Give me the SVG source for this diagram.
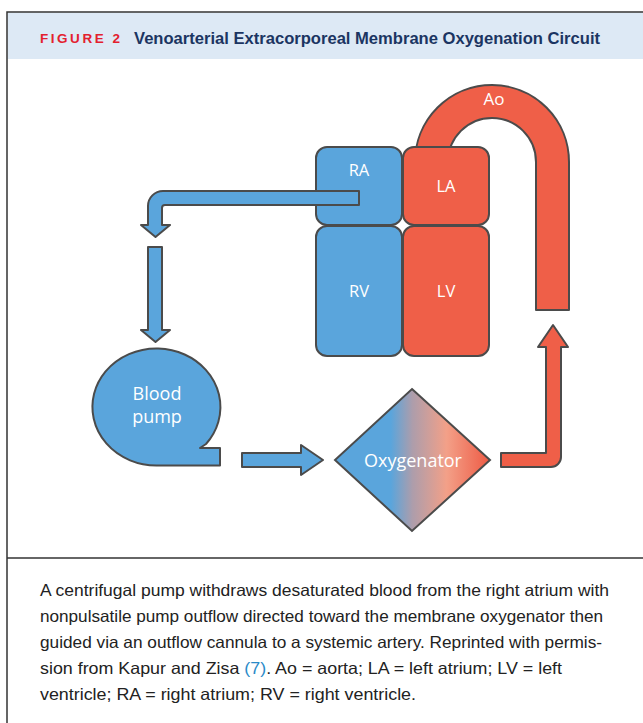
<svg xmlns="http://www.w3.org/2000/svg" width="643" height="723" viewBox="0 0 643 723">
  <style>
    .frame { stroke: #333333; stroke-width: 1.5; fill: none; }
    .blue { fill: #5aa5dc; stroke: #4b4b4b; stroke-width: 2; stroke-linejoin: round; }
    .red { fill: #ef5f48; stroke: #4b4b4b; stroke-width: 2; stroke-linejoin: round; }
    .lbl { font-family: "Open Sans", "Noto Sans", "Liberation Sans", sans-serif; fill: #ffffff; text-anchor: middle; }
    .cap { font-family: "Liberation Sans", Arial, sans-serif; font-size: 16.5px; fill: #222222; }
  </style>
  <defs>
    <linearGradient id="oxyGrad" gradientUnits="userSpaceOnUse" x1="335" y1="0" x2="490" y2="0">
      <stop offset="0" stop-color="#5aa5dc"/>
      <stop offset="0.36" stop-color="#5aa5dc"/>
      <stop offset="0.5" stop-color="#ad9dab"/>
      <stop offset="0.72" stop-color="#f3a088"/>
      <stop offset="1" stop-color="#ee5a44"/>
    </linearGradient>
  </defs>

  <!-- frame and header -->
  <rect x="7.5" y="12.5" width="636" height="46.5" fill="#dde9f5"/>
  <path class="frame" d="M7,723 V12 H643"/>
  <line class="frame" x1="7" y1="558" x2="643" y2="558"/>
  <text x="40" y="43" font-family="Liberation Sans, Arial, sans-serif" font-size="13.5" font-weight="bold" fill="#e3202e" textLength="80" lengthAdjust="spacing">FIGURE 2</text>
  <text x="134" y="43.5" font-family="Liberation Sans, Arial, sans-serif" font-size="16" font-weight="bold" fill="#1b3562" textLength="466" lengthAdjust="spacingAndGlyphs">Venoarterial Extracorporeal Membrane Oxygenation Circuit</text>

  <!-- Aorta -->
  <g id="Ao">
    <path class="red" d="M415,200 V162 A77,77 0 0 1 569,162 V310 H536 V162 A44,44 0 0 0 448,162 V200 Z"/>
    <text class="lbl" x="494" y="105" font-size="17">Ao</text>
  </g>

  <!-- Heart chambers -->
  <g id="RA">
    <rect class="blue" x="316" y="147" width="86" height="78" rx="11"/>
    <text class="lbl" x="359" y="176" font-size="16.5">RA</text>
  </g>
  <g id="RV">
    <rect class="blue" x="316" y="226" width="86" height="130" rx="11"/>
    <text class="lbl" x="359" y="297" font-size="16.5">RV</text>
  </g>
  <g id="LA">
    <rect class="red" x="403" y="147" width="86" height="78" rx="11"/>
    <text class="lbl" x="446" y="192" font-size="16.5">LA</text>
  </g>
  <g id="LV">
    <rect class="red" x="403" y="226" width="86" height="130" rx="11"/>
    <text class="lbl" x="446" y="297" font-size="16.5">LV</text>
  </g>

  <!-- Blood pump -->
  <g id="BloodPump">
    <path class="blue" d="M200,448 L206,444 A64,58.5 0 1 0 156.5,465.5 H220 V448 Z"/>
    <text class="lbl" x="157" y="400" font-size="18">Blood</text>
    <text class="lbl" x="157" y="423" font-size="18">pump</text>
  </g>

  <!-- Oxygenator -->
  <g id="Oxygenator">
    <path d="M412,389 L490,460 L412,531 L335,460 Z" fill="url(#oxyGrad)" stroke="#4b4b4b" stroke-width="2" stroke-linejoin="miter"/>
    <text class="lbl" x="413" y="467" font-size="18">Oxygenator</text>
  </g>

  <!-- Connectors -->
  <g id="connectors">
    <path class="blue" stroke-width="1.8" d="M359,191 H163 A15,15 0 0 0 148,206 V225 H141 L155.5,237 L170,225 H162 V208 Q162,205 165,205 H359 Z"/>
    <path class="blue" stroke-width="1.8" d="M148,247 H162 V330 H170 L155.5,342 L141,330 H148 Z"/>
    <path class="blue" stroke-width="1.8" d="M242,453 H301 V445 L323,460 L301,475 V467 H242 Z"/>
    <path class="red" stroke-width="1.8" d="M501,453 H546 V347 H538 L553,325 L568,347 H561 V457 A10,10 0 0 1 551,467 H501 Z"/>
  </g>

  <!-- Caption -->
  <g id="caption">
    <text class="cap" x="40" y="596" textLength="569" lengthAdjust="spacingAndGlyphs">A centrifugal pump withdraws desaturated blood from the right atrium with</text>
    <text class="cap" x="40" y="622" textLength="563" lengthAdjust="spacingAndGlyphs">nonpulsatile pump outflow directed toward the membrane oxygenator then</text>
    <text class="cap" x="40" y="648" textLength="562" lengthAdjust="spacingAndGlyphs">guided via an outflow cannula to a systemic artery. Reprinted with permis-</text>
    <text class="cap" x="40" y="674" textLength="522" lengthAdjust="spacingAndGlyphs">sion from Kapur and Zisa <tspan fill="#2a8ac8">(7)</tspan>. Ao = aorta; LA = left atrium; LV = left</text>
    <text class="cap" x="40" y="700" textLength="376" lengthAdjust="spacingAndGlyphs">ventricle; RA = right atrium; RV = right ventricle.</text>
  </g>
</svg>
